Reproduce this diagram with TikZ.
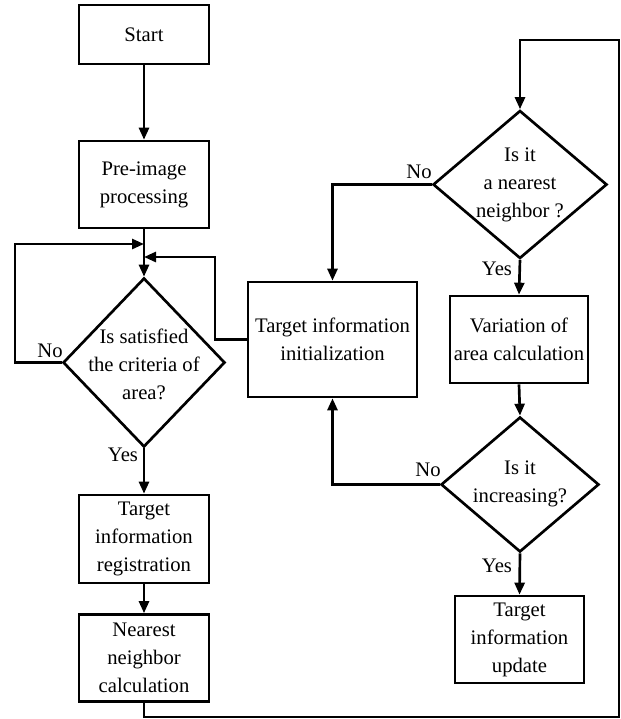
\documentclass[tikz,border=0pt]{standalone}
\usepackage{fontspec}
\setmainfont{Liberation Serif}
\usetikzlibrary{arrows.meta,shapes.geometric}
\begin{document}
\begin{tikzpicture}[x=0.75pt,y=-0.75pt,
  every node/.style={font=\fontsize{15.5}{21}\selectfont},
  box/.style={draw,line width=2pt,rectangle,inner sep=0pt,align=center},
  dia/.style={draw,line width=2pt,diamond,inner sep=0pt},
  dtext/.style={align=center,inner sep=0pt},
  lab/.style={inner sep=0pt},
  arr/.style={line width=2pt,-{Triangle[length=9pt,width=7.5pt]}},
  ln/.style={line width=2pt}]
\useasboundingbox (0,0) rectangle (621,719);
% left column
\node[box,minimum width=130*0.75pt,minimum height=59*0.75pt] (start) at (144,34.5) {Start};
\node[box,minimum width=130*0.75pt,minimum height=87*0.75pt] (pre) at (144,184.5) {Pre-image\\processing};
\node[dia,minimum width=162*0.75pt,minimum height=169*0.75pt] (d1) at (144,362.5) {};
\node[dtext] (d1t) at (144,364) {Is satisfied\\the criteria of\\area?};
\node[box,minimum width=130*0.75pt,minimum height=88*0.75pt] (reg) at (144,539) {Target\\information\\registration};
\node[box,minimum width=130*0.75pt,minimum height=87*0.75pt] (nn) at (144,658) {Nearest\\neighbor\\calculation};
% middle
\node[box,minimum width=169*0.75pt,minimum height=115*0.75pt] (init) at (332.5,339.5) {Target information\\initialization};
% right column
\node[dia,minimum width=174*0.75pt,minimum height=148*0.75pt] (d2) at (520,184.5) {};
\node[dtext] (d2t) at (520,185) {Is it\\a nearest\\neighbor ?};
\node[box,minimum width=138*0.75pt,minimum height=87*0.75pt] (var) at (519,339.5) {Variation of\\area calculation};
\node[dia,minimum width=158*0.75pt,minimum height=135*0.75pt] (d3) at (520,484.5) {};
\node[dtext] (d3t) at (520,484) {Is it\\increasing?};
\node[box,minimum width=129*0.75pt,minimum height=87*0.75pt] (upd) at (519.5,639.5) {Target\\information\\update};
% labels
\node[lab] (no1) at (50,351) {No};
\node[lab] (yes1) at (123,455) {Yes};
\node[lab] (no2) at (419,172) {No};
\node[lab] (yes2) at (497,269) {Yes};
\node[lab] (no3) at (428,470) {No};
\node[lab] (yes3) at (497,566) {Yes};
% junctions
\coordinate (j1) at (144,244);
\coordinate (j2) at (144,257);
\coordinate (c1) at (15,244);
\coordinate (c2) at (215,257);
\coordinate (b1) at (144,717);
\coordinate (b2) at (619,717);
\coordinate (b3) at (619,40);
% connectors
\draw[arr] (start.south) -- (pre.north);
\draw[arr] (pre.south) -- (d1.north);
\draw[arr] (d1.west) -| (c1) -- (j1);
\draw[arr] (init.west) -| (c2) -- (j2);
\draw[arr] (d1.south) -- (reg.north);
\draw[arr] (reg.south) -- (nn.north);
\draw[arr] (nn.south) -- (b1) -- (b2) -- (b3) -| (d2.north);
\draw[arr] (d2.west) -| (init.north);
\draw[arr] (d2.south) -- (var.north);
\draw[arr] (var.south) -- (d3.north);
\draw[arr] (d3.west) -| (init.south);
\draw[arr] (d3.south) -- (upd.north);
\end{tikzpicture}
\end{document}
